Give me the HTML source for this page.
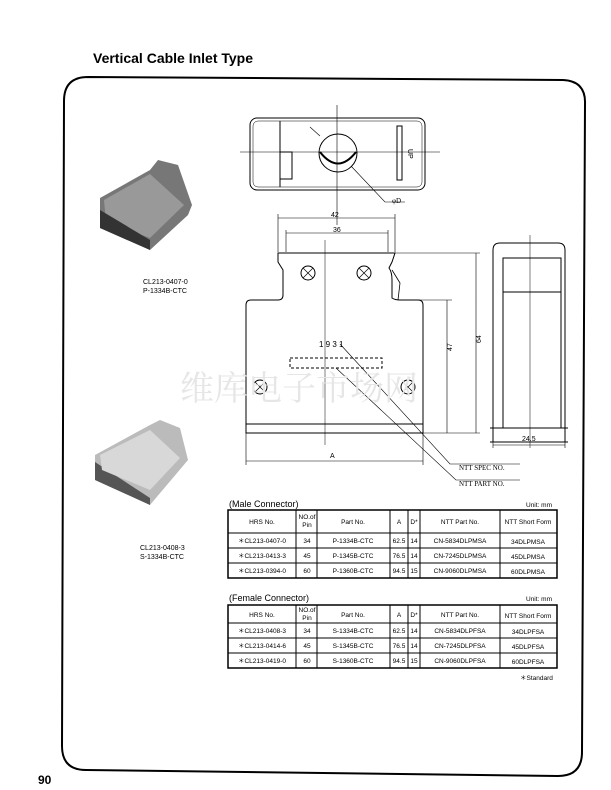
<!DOCTYPE html>
<html><head><meta charset="utf-8"><style>
html,body{margin:0;padding:0;background:#fff;}
body{width:611px;height:790px;position:relative;overflow:hidden;font-family:"Liberation Sans",sans-serif;}
svg{position:absolute;left:0;top:0;}
</style></head><body>
<svg width="611" height="790" viewBox="0 0 611 790" font-family="Liberation Sans, sans-serif">
<text x="93" y="63" font-size="14" font-weight="bold">Vertical Cable Inlet Type</text>
<path d="M88 77 L563 80 Q586 81 585 104 L582 752 Q582 776 558 776 L86 770 Q62 770 62 746 L64 101 Q64 77 88 77 Z" fill="none" stroke="#000" stroke-width="2"/>
<text x="38" y="784" font-size="12" font-weight="bold">90</text>

<g>
<polygon points="100,198 150,170 158,160 178,165 192,205 188,215 150,250 100,228" fill="#777"/>
<polygon points="104,200 150,174 184,205 150,238 106,222" fill="#999"/>
<polygon points="100,210 150,240 150,250 100,228" fill="#333"/>
<polygon points="95,455 150,425 160,420 180,428 188,460 150,505 95,480" fill="#bbb"/>
<polygon points="95,462 150,498 150,505 95,480" fill="#555"/>
<polygon points="100,455 150,430 180,458 150,490 102,470" fill="#d8d8d8"/>
</g>
<g font-size="7">
<text x="143" y="284">CL213-0407-0</text>
<text x="143" y="293">P-1334B-CTC</text>
<text x="140" y="550">CL213-0408-3</text>
<text x="140" y="559">S-1334B-CTC</text>
</g>

<g fill="none" stroke="#000" stroke-width="1">
<rect x="250" y="118" width="175" height="72" rx="7"/>
<rect x="253" y="121" width="169" height="66" rx="5" stroke-width="0.5"/>
<path d="M280 121 V187 M280 152 H292 V179 H280"/>
<path d="M397 126 H402 V180 H397 Z"/>
<circle cx="338" cy="153" r="19"/>
<path d="M320 152 Q338 175 356 152" stroke-width="2"/>
<path d="M240 152 H440 M337 105 V225" stroke-width="0.6"/>
<path d="M351 166 L385 202 H405" stroke-width="0.6"/>
<path d="M320 136 L310 127" stroke-width="0.6"/>
<path d="M278 253 H395 L392 262 L389 268 Q392 272 392 280 L392 298 Q395 300 400 300 H418 Q423 300 423 305 V433 H246 V305 Q246 300 251 300 H278 Q283 300 283 295 V270 L278 262 Z"/>
<path d="M246 424 H423"/>
<path d="M392 270 L400 283 L398 300" stroke-width="0.8"/>
<path d="M325 240 V445" stroke-width="0.5"/>
<rect x="290" y="358" width="92" height="10" stroke-dasharray="3,2"/>
<circle cx="308" cy="273" r="7"/><circle cx="364" cy="273" r="7"/>
<circle cx="260" cy="387" r="7"/><circle cx="408" cy="387" r="7"/>
<path d="M303 268l10 10M313 268l-10 10M359 268l10 10M369 268l-10 10M255 382l10 10M265 382l-10 10M403 382l10 10M413 382l-10 10" stroke-width="0.7"/>
<path d="M278 252 V214 M395 252 V214 M278 218 H395 M286 252 V230 M388 252 V230 M286 233 H388" stroke-width="0.6"/>
<path d="M395 253 H480 M400 300 H452 M423 433 H480 M476 253 V433 M447 300 V433" stroke-width="0.6"/>
<path d="M246 433 V465 M423 433 V465 M246 461 H423" stroke-width="0.6"/>
<path d="M340 344 L450 464 H520 M336 368 L456 480 H520" stroke-width="0.6"/>
<path d="M493 442 V250 Q493 243 500 243 H558 Q565 243 565 250 V442 Z"/>
<rect x="503" y="258" width="58" height="34"/>
<path d="M503 292 V428 M561 292 V428 M490 428 H568 M490 442 H568" />
<path d="M530 235 V448" stroke-width="0.5"/>
<path d="M493 442 V448 M565 442 V448 M493 445 H565" stroke-width="0.6"/>
</g>
<g font-size="7">
<text x="331" y="217">42</text>
<text x="333" y="232">36</text>
<text x="319" y="347" font-size="8">1 9 3 1</text>
<text x="330" y="458">A</text>
<text x="522" y="441">24.5</text>
<text x="452" y="351" transform="rotate(-90 452 351)">47</text>
<text x="481" y="343" transform="rotate(-90 481 343)">64</text>
<text x="408" y="149" transform="rotate(90 408 149)">UP</text>
<text x="392" y="203" font-family="Liberation Serif, serif">φD</text>
<text x="459" y="470" font-family="Liberation Serif, serif">NTT SPEC NO.</text>
<text x="459" y="486" font-family="Liberation Serif, serif">NTT PART NO.</text>
</g>
<text x="180" y="400" font-size="34" fill="#e6e6e6" font-family="Noto Serif CJK SC, serif">维库电子市场网</text>

<g font-size="9"><text x="229" y="507">(Male Connector)</text><text x="229" y="601">(Female Connector)</text></g>
<g font-size="6.5"><text x="526" y="507">Unit: mm</text><text x="526" y="601">Unit: mm</text><text x="520" y="680">＊Standard</text></g>
<g fill="none" stroke="#000" stroke-width="1">
<rect x="228" y="510" width="329" height="68" stroke-width="1.5"/>
<path d="M228 533H557M228 548H557M228 563H557M296 510V578M317 510V578M390 510V578M408 510V578M420 510V578M500 510V578"/>
<rect x="228" y="605" width="329" height="63" stroke-width="1.5"/>
<path d="M228 623H557M228 638H557M228 653H557M296 605V668M317 605V668M390 605V668M408 605V668M420 605V668M500 605V668"/>
</g>
<g font-size="6.5" text-anchor="middle">
<text x="262" y="524">HRS No.</text><text x="307" y="519">NO.of</text><text x="307" y="527">Pin</text><text x="353" y="524">Part No.</text><text x="399" y="524">A</text><text x="414" y="524">D*</text><text x="460" y="524">NTT Part No.</text><text x="528" y="524">NTT Short Form</text>
<text x="262" y="543">＊CL213-0407-0</text><text x="307" y="543">34</text><text x="353" y="543">P-1334B-CTC</text><text x="399" y="543">62.5</text><text x="414" y="543">14</text><text x="460" y="543">CN-5834DLPMSA</text><text x="528" y="544">34DLPMSA</text>
<text x="262" y="558">＊CL213-0413-3</text><text x="307" y="558">45</text><text x="353" y="558">P-1345B-CTC</text><text x="399" y="558">76.5</text><text x="414" y="558">14</text><text x="460" y="558">CN-7245DLPMSA</text><text x="528" y="559">45DLPMSA</text>
<text x="262" y="573">＊CL213-0394-0</text><text x="307" y="573">60</text><text x="353" y="573">P-1360B-CTC</text><text x="399" y="573">94.5</text><text x="414" y="573">15</text><text x="460" y="573">CN-9060DLPMSA</text><text x="528" y="574">60DLPMSA</text>
<text x="262" y="617">HRS No.</text><text x="307" y="612">NO.of</text><text x="307" y="620">Pin</text><text x="353" y="617">Part No.</text><text x="399" y="617">A</text><text x="414" y="617">D*</text><text x="460" y="617">NTT Part No.</text><text x="528" y="618">NTT Short Form</text>
<text x="262" y="633">＊CL213-0408-3</text><text x="307" y="633">34</text><text x="353" y="633">S-1334B-CTC</text><text x="399" y="633">62.5</text><text x="414" y="633">14</text><text x="460" y="633">CN-5834DLPFSA</text><text x="528" y="634">34DLPFSA</text>
<text x="262" y="648">＊CL213-0414-6</text><text x="307" y="648">45</text><text x="353" y="648">S-1345B-CTC</text><text x="399" y="648">76.5</text><text x="414" y="648">14</text><text x="460" y="648">CN-7245DLPFSA</text><text x="528" y="649">45DLPFSA</text>
<text x="262" y="663">＊CL213-0419-0</text><text x="307" y="663">60</text><text x="353" y="663">S-1360B-CTC</text><text x="399" y="663">94.5</text><text x="414" y="663">15</text><text x="460" y="663">CN-9060DLPFSA</text><text x="528" y="664">60DLPFSA</text>
</g>
</svg>
</body></html>
